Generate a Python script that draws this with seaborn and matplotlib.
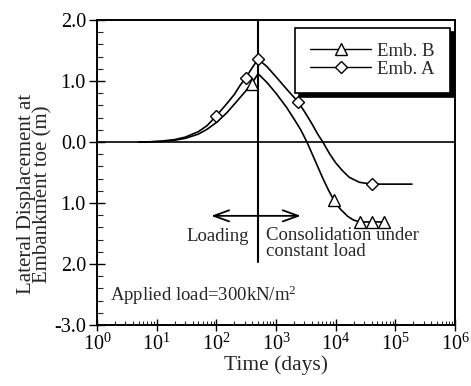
import numpy as np
import pandas as pd
import matplotlib
matplotlib.use('Agg')
import matplotlib.pyplot as plt
from matplotlib.lines import Line2D
from matplotlib.ticker import LogLocator, MultipleLocator, NullFormatter
import seaborn as sns

# curve readings (days, lateral displacement m)
emb_a_days = [5, 8, 12, 20, 30, 50, 70, 100, 150, 200, 250, 310, 400, 500,
              700, 1000, 1500, 2340, 3000, 4000, 5000, 6100, 8000, 10000,
              13000, 17000, 25000, 40000, 190000]
emb_a_disp = [0.0, 0.005, 0.015, 0.04, 0.08, 0.17, 0.27, 0.43, 0.63, 0.78, 0.93, 1.05, 1.22, 1.36,
              1.24, 1.07, 0.87, 0.66, 0.5, 0.3, 0.13, 0.0, -0.2, -0.34,
              -0.47, -0.58, -0.66, -0.69, -0.69]
emb_b_days = [5, 8, 12, 20, 30, 50, 70, 100, 150, 200, 300, 400, 500,
              700, 1000, 1500, 2000, 2600, 3300, 4500, 6000, 7500, 9300,
              12000, 16000, 20000, 25500, 40000, 64000]
emb_b_disp = [0.0, 0.004, 0.01, 0.03, 0.06, 0.13, 0.21, 0.32, 0.48, 0.62, 0.82, 0.97, 1.12,
              0.98, 0.8, 0.57, 0.38, 0.2, 0.0, -0.3, -0.58, -0.78, -0.95,
              -1.1, -1.22, -1.28, -1.31, -1.31, -1.31]

# marker readings
emb_a_mark_days = [100, 310, 500, 2340, 40000]
emb_a_mark_disp = [0.43, 1.05, 1.36, 0.66, -0.69]
emb_b_mark_days = [400, 9300, 25500, 40000, 64000]
emb_b_mark_disp = [0.95, -0.95, -1.31, -1.31, -1.31]

y_ticks = [2.0, 1.0, 0.0, -1.0, -2.0, -3.0]
y_tick_labels = ['2.0', '1.0', '0.0', '1.0', '2.0', '-3.0']
load_end_day = 500

sns.set_style('ticks')
plt.rcParams['font.family'] = ['Liberation Serif', 'DejaVu Serif']
plt.rcParams['mathtext.fontset'] = 'custom'
plt.rcParams['mathtext.rm'] = 'Liberation Serif'
plt.rcParams['mathtext.it'] = 'Liberation Serif:italic'

fig = plt.figure(figsize=(4.71, 3.86), dpi=100)
ax = fig.add_axes([0.206, 0.158, 0.76, 0.79])

curve_a = pd.DataFrame({'days': emb_a_days, 'disp': emb_a_disp})
curve_b = pd.DataFrame({'days': emb_b_days, 'disp': emb_b_disp})
sns.lineplot(data=curve_a, x='days', y='disp', ax=ax, color='black', lw=1.2, sort=False)
sns.lineplot(data=curve_b, x='days', y='disp', ax=ax, color='black', lw=1.2, sort=False)
ax.plot(emb_a_mark_days, emb_a_mark_disp, ls='none', marker='D', ms=6.5,
        mfc='white', mec='black', mew=1.0, zorder=5)
ax.plot(emb_b_mark_days, emb_b_mark_disp, ls='none', marker='^', ms=8.5,
        mfc='white', mec='black', mew=1.0, zorder=5)

ax.set_xscale('log')
ax.set_xlim(1, 1e6)
ax.set_ylim(-3.0, 2.0)

ax.axhline(0, color='black', lw=1.2)
ax.plot([load_end_day, load_end_day], [2.0, -1.97], color='black', lw=1.5)

# arrows
arrow_style = '->,head_length=1.1,head_width=0.4'
ax.annotate('', xy=(82, -1.21), xytext=(load_end_day, -1.21),
            arrowprops=dict(arrowstyle=arrow_style, color='black', lw=1.3, shrinkA=0, shrinkB=0))
ax.annotate('', xy=(2600, -1.21), xytext=(load_end_day, -1.21),
            arrowprops=dict(arrowstyle=arrow_style, color='black', lw=1.3, shrinkA=0, shrinkB=0))
ax.text(350, -1.55, 'Loading', ha='right', va='center', fontsize=13.5)
ax.text(680, -1.40, 'Consolidation under\nconstant load', ha='left', va='top',
        fontsize=13.5, linespacing=0.9)
ax.text(1.65, -2.52, 'Applied load=300kN/m$^2$', ha='left', va='center', fontsize=13.5)

ax.set_yticks(y_ticks)
ax.set_yticklabels(y_tick_labels)
ax.yaxis.set_minor_locator(MultipleLocator(0.2))
ax.xaxis.set_major_locator(LogLocator(base=10, numticks=10))
ax.xaxis.set_minor_locator(LogLocator(base=10, subs=np.arange(2, 10), numticks=10))
ax.xaxis.set_minor_formatter(NullFormatter())
ax.tick_params(which='major', direction='inout', length=9, width=1.0, labelsize=14.5,
               colors='black', pad=2)
ax.tick_params(which='minor', direction='in', length=3, width=0.8)
ax.tick_params(axis='y', which='major', direction='inout', length=12)
ax.tick_params(axis='y', which='minor', direction='in', length=4)
for s in ax.spines.values():
    s.set_linewidth(1.4)
    s.set_color('black')
    s.set_visible(True)

ax.set_xlabel('Time (days)', fontsize=15.5, labelpad=0)
ax.set_ylabel('Lateral Displacement at\nEmbankment toe (m)', fontsize=15, linespacing=0.82)
ax.yaxis.set_label_coords(-0.125, 0.43)

handles = [Line2D([], [], color='black', lw=1.0, marker='^', ms=8.5, mfc='white', mec='black'),
           Line2D([], [], color='black', lw=1.0, marker='D', ms=6.5, mfc='white', mec='black')]
leg = ax.legend(handles, ['Emb. B', 'Emb. A'], loc='upper right', bbox_to_anchor=(0.985, 0.975),
                fontsize=13.5, frameon=True, fancybox=False, edgecolor='black',
                shadow={'ox': 3, 'oy': -3, 'color': 'black', 'alpha': 1.0},
                handlelength=3.3, labelspacing=0.05, borderpad=0.8, handletextpad=0.3,
                borderaxespad=0.0)
leg.get_frame().set_linewidth(1.2)
leg.get_frame().set_alpha(1.0)

fig.savefig('out.png', dpi=100)
